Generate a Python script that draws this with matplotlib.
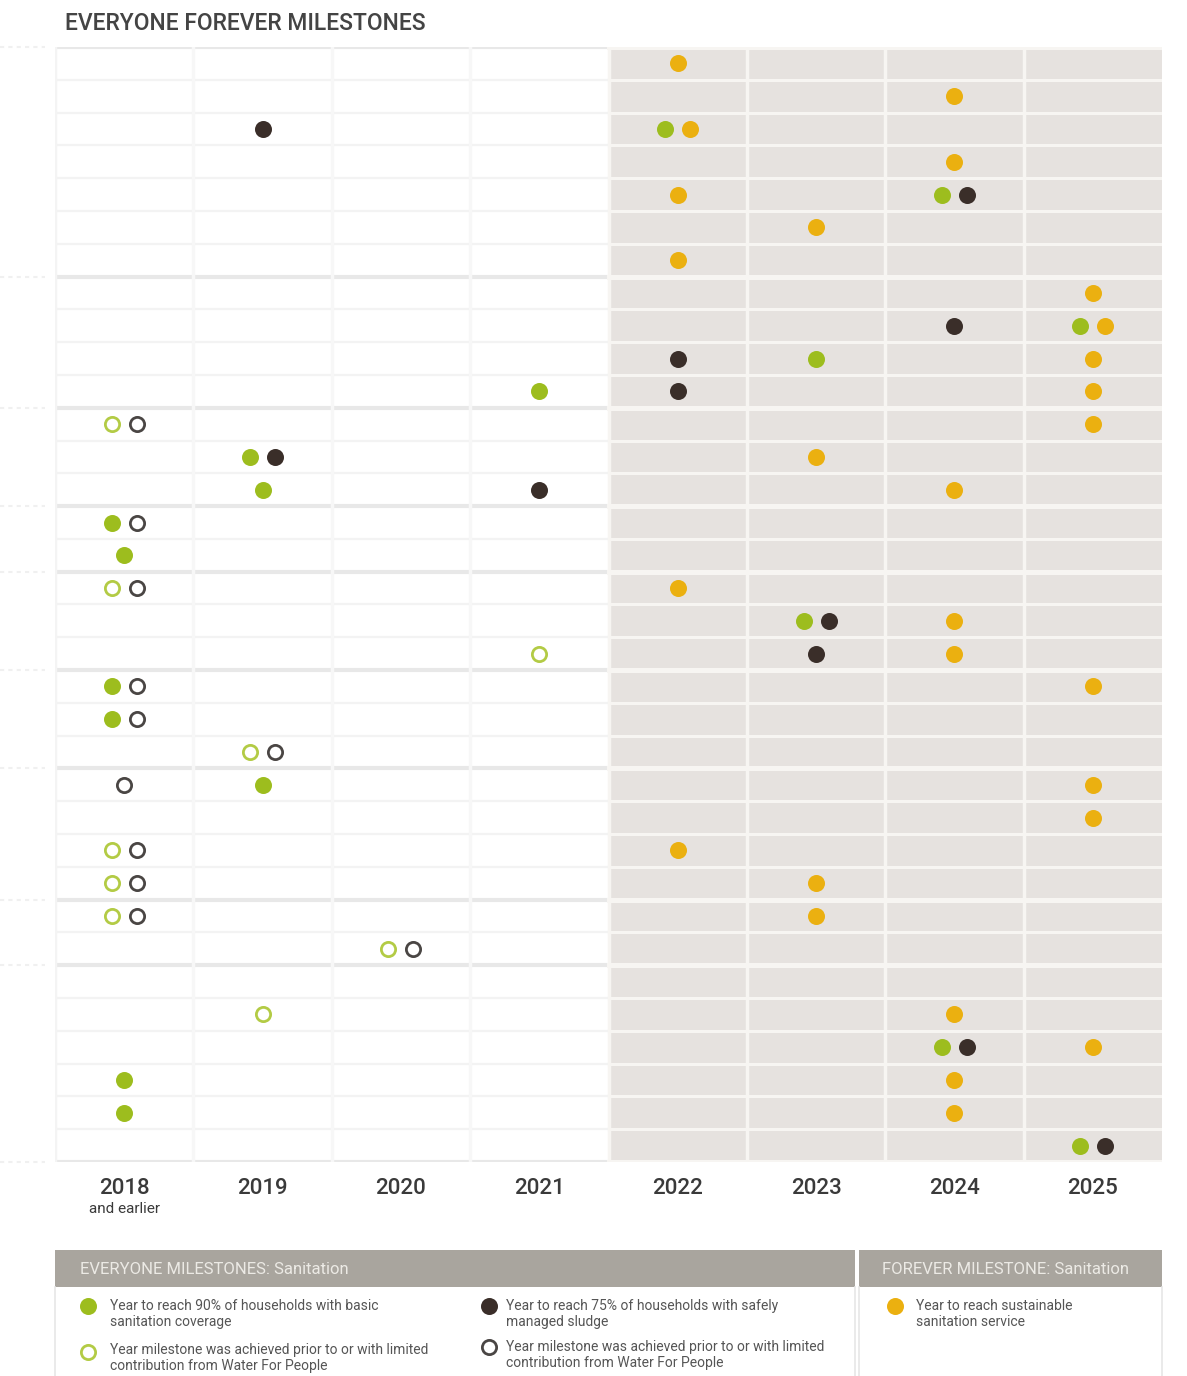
import numpy as np
import matplotlib.pyplot as plt
from matplotlib.patches import Rectangle

plt.rcParams['font.family'] = ['Roboto', 'DejaVu Sans']

# ---- data ----
years = [2018, 2019, 2020, 2021, 2022, 2023, 2024, 2025]
year_labels = ["2018", "2019", "2020", "2021", "2022", "2023", "2024", "2025"]
group_sizes = [7, 4, 3, 2, 3, 3, 4, 2, 6]
nan = np.nan

# year to reach 90% basic sanitation coverage (green)
basic_year = [nan, nan, 2022, nan, 2024, nan, nan,
              nan, 2025, 2023, 2021,
              2018, 2019, 2019,
              2018, 2018,
              2018, 2023, 2021,
              2018, 2018, 2019,
              2019, nan, 2018, 2018,
              2018, 2020,
              nan, 2019, 2024, 2018, 2018, 2025]
basic_open = [0, 0, 0, 0, 0, 0, 0,
              0, 0, 0, 0,
              1, 0, 0,
              0, 0,
              1, 0, 1,
              0, 0, 1,
              0, 0, 1, 1,
              1, 1,
              0, 1, 0, 0, 0, 0]
# year to reach 75% safely managed sludge (dark)
sludge_year = [nan, nan, 2019, nan, 2024, nan, nan,
               nan, 2024, 2022, 2022,
               2018, 2019, 2021,
               2018, nan,
               2018, 2023, 2023,
               2018, 2018, 2019,
               2018, nan, 2018, 2018,
               2018, 2020,
               nan, nan, 2024, nan, nan, 2025]
sludge_open = [0, 0, 0, 0, 0, 0, 0,
               0, 0, 0, 0,
               1, 0, 0,
               1, 0,
               1, 0, 0,
               1, 1, 1,
               1, 0, 1, 1,
               1, 1,
               0, 0, 0, 0, 0, 0]
# year to reach sustainable sanitation service (orange)
service_year = [2022, 2024, 2022, 2024, 2022, 2023, 2022,
                2025, 2025, 2025, 2025,
                2025, 2023, 2024,
                nan, nan,
                2022, 2024, 2024,
                2025, nan, nan,
                2025, 2025, 2022, 2023,
                2023, nan,
                nan, 2024, 2025, 2024, 2024, nan]

GREEN = "#9dbd1e"
DARK = "#3a2e29"
ORANGE = "#ebb010"
OPEN_GREEN = "#b3cb45"
OPEN_DARK = "#4a4644"
SHADE = "#e6e2df"

n_rows = len(service_year)
n_cols = len(years)

W, H = 1187, 1376
fig = plt.figure(figsize=(W / 100, H / 100), dpi=100)
fig.patch.set_facecolor("white")

L, R, T, B = 55, 1162, 47, 1162
ax = fig.add_axes([L / W, 1 - B / H, (R - L) / W, (B - T) / H])
ax.set_xlim(0, n_cols)
ax.set_ylim(n_rows, 0)
ax.axis("off")

# shaded future block
ax.add_patch(Rectangle((4, 0), 4, n_rows, facecolor=SHADE, edgecolor="none", zorder=0))

# row lines
bounds = np.cumsum([0] + group_sizes)
for r in range(n_rows + 1):
    is_group = r in bounds
    lw = 3.0 if is_group else 1.6
    ax.plot([0, 4], [r, r], color="#e8e8e8" if is_group else "#f3f3f3", lw=lw, zorder=1)
    ax.plot([4, 8], [r, r], color="#f7f5f2", lw=lw + 0.6, zorder=1)

# column lines
for c in range(1, n_cols):
    col = "#f7f7f7" if c < 4 else "#f7f5f2"
    ax.plot([c, c], [0, n_rows], color=col, lw=2.5, zorder=1)
ax.plot([0, 0], [0, n_rows], color="#f4f4f4", lw=2.5, zorder=1)

# markers
d = 12.5 / ((R - L) / n_cols)
for i in range(n_rows):
    cells = {}
    for kind, yr in (("b", basic_year[i]), ("s", sludge_year[i]), ("f", service_year[i])):
        if not np.isnan(yr):
            cells.setdefault(int(yr), []).append(kind)
    for yr, kinds in cells.items():
        n = len(kinds)
        for j, kind in enumerate(kinds):
            x = (yr - years[0]) + 0.5 + (j - (n - 1) / 2) * 2 * d
            y = i + 0.5
            if kind == "b":
                if basic_open[i]:
                    ax.scatter(x, y, s=105, facecolor="white", edgecolor=OPEN_GREEN, linewidth=2.0, zorder=3)
                else:
                    ax.scatter(x, y, s=150, color=GREEN, linewidth=0, zorder=3)
            elif kind == "s":
                if sludge_open[i]:
                    ax.scatter(x, y, s=105, facecolor="white", edgecolor=OPEN_DARK, linewidth=2.0, zorder=3)
                else:
                    ax.scatter(x, y, s=150, color=DARK, linewidth=0, zorder=3)
            else:
                ax.scatter(x, y, s=150, color=ORANGE, linewidth=0, zorder=3)

# faint remnants of row labels on the left
for b in bounds:
    yy = 1 - (T + b * (B - T) / n_rows) / H
    fig.add_artist(plt.Line2D([0.0, 45 / W], [yy, yy], color="#f0f0f0", lw=1.5, ls=(0, (2, 2))))

# title
fig.text(65 / W, 1 - 23 / H, "EVERYONE FOREVER MILESTONES", fontsize=16.5, color="#444444",
         va="center", ha="left", fontweight="medium")

# year labels
for c, lab in enumerate(year_labels):
    xx = (L + (c + 0.5) * (R - L) / n_cols) / W
    fig.text(xx, 1 - 1188 / H, lab, fontsize=16, color="#3a3a3a", ha="center", va="center",
             fontweight="medium")
fig.text((L + 0.5 * (R - L) / n_cols) / W, 1 - 1209 / H, "and earlier", fontsize=11,
         color="#3a3a3a", ha="center", va="center")

# legend
HEAD = "#a9a59e"
fig.add_artist(Rectangle((55 / W, 1 - 1287 / H), (855 - 55) / W, 37 / H, transform=fig.transFigure,
                         facecolor=HEAD, edgecolor="none"))
fig.add_artist(Rectangle((859 / W, 1 - 1287 / H), (1162 - 859) / W, 37 / H, transform=fig.transFigure,
                         facecolor=HEAD, edgecolor="none"))
for x0, x1 in ((55, 855), (859, 1162)):
    for xv in (x0, x1):
        fig.add_artist(plt.Line2D([xv / W, xv / W], [0, 1 - 1287 / H], color="#e6e6e6", lw=1.2))
fig.text(80 / W, 1 - 1269 / H, "EVERYONE MILESTONES: Sanitation", fontsize=12, color="#eceae5",
         va="center", ha="left")
fig.text(882 / W, 1 - 1269 / H, "FOREVER MILESTONE: Sanitation", fontsize=12, color="#eceae5",
         va="center", ha="left")

lax = fig.add_axes([0, 0, 1, 1])
lax.set_xlim(0, W)
lax.set_ylim(H, 0)
lax.axis("off")
lax.scatter([88], [1306], s=150, color=GREEN, linewidth=0)
lax.scatter([88], [1352], s=105, facecolor="white", edgecolor=OPEN_GREEN, linewidth=2.0)
lax.scatter([489], [1306], s=150, color=DARK, linewidth=0)
lax.scatter([489], [1347], s=105, facecolor="white", edgecolor=OPEN_DARK, linewidth=2.0)
lax.scatter([895], [1306], s=150, color=ORANGE, linewidth=0)

legend_texts = [
    (110, 1314, "Year to reach 90% of households with basic\nsanitation coverage"),
    (110, 1358, "Year milestone was achieved prior to or with limited\ncontribution from Water For People"),
    (506, 1314, "Year to reach 75% of households with safely\nmanaged sludge"),
    (506, 1355, "Year milestone was achieved prior to or with limited\ncontribution from Water For People"),
    (916, 1314, "Year to reach sustainable\nsanitation service"),
]
for x, y, t in legend_texts:
    lax.text(x, y, t, fontsize=10, color="#555555", va="center", ha="left", linespacing=1.1)

fig.savefig("out.png", dpi=100, facecolor="white")
